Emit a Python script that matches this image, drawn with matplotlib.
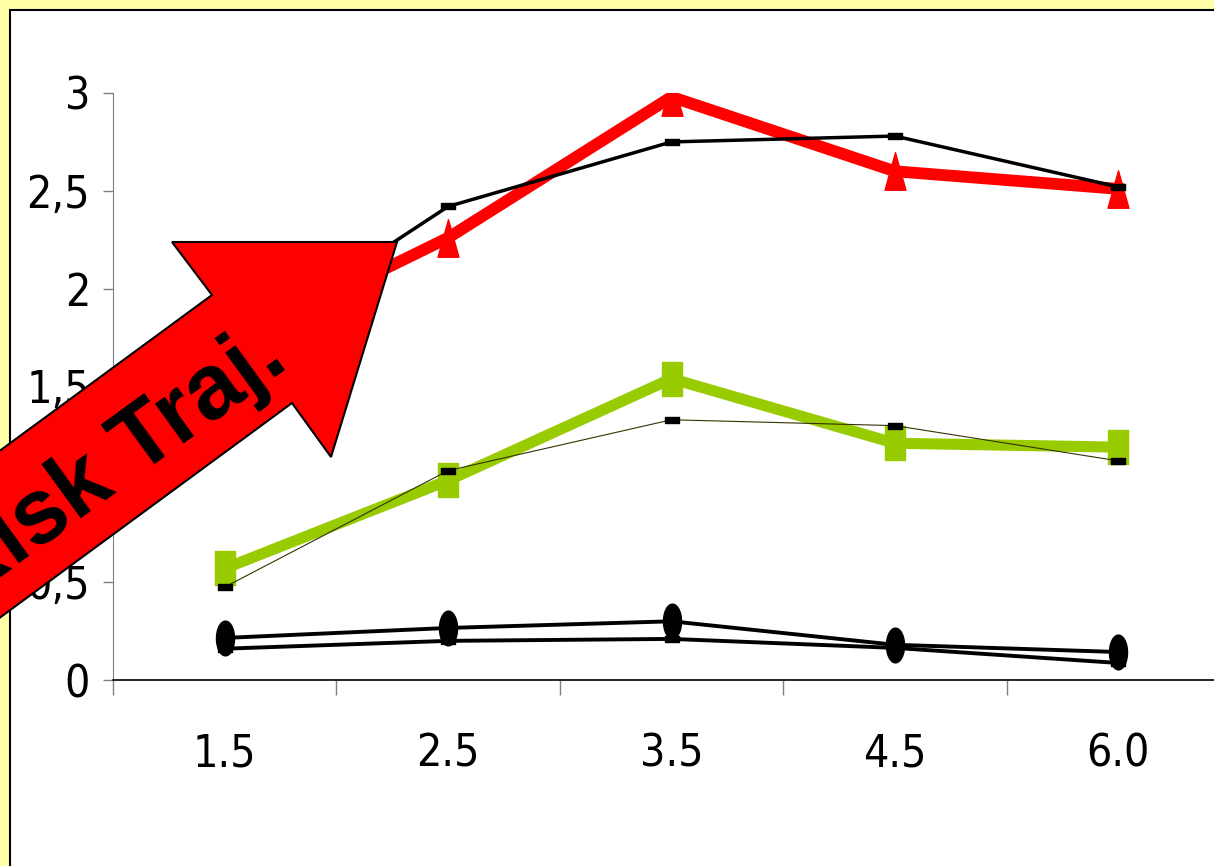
import matplotlib
matplotlib.use("Agg")
import matplotlib.pyplot as plt
import numpy as np
from matplotlib.path import Path
from matplotlib.patches import Polygon, Rectangle

W, H = 1214, 866

x_labels = ["1.5", "2.5", "3.5", "4.5", "6.0"]
red_vals = [1.70, 2.26, 2.98, 2.60, 2.51]
black_high = [1.67, 2.42, 2.75, 2.78, 2.52]
green_vals = [0.57, 1.02, 1.54, 1.21, 1.19]
black_mid = [0.475, 1.07, 1.33, 1.30, 1.12]
black_oval = [0.215, 0.266, 0.30, 0.18, 0.143]
black_low = [0.16, 0.20, 0.21, 0.164, 0.087]
y_ticks = [0, 0.5, 1, 1.5, 2, 2.5, 3]
y_labels = ["0", "0,5", "1", "1,5", "2", "2,5", "3"]


def px(x, y):
    return (x / W, 1 - y / H)


def box_marker(w, h):
    return Path([(-w, -h), (w, -h), (w, h), (-w, h), (-w, -h)],
                [Path.MOVETO, Path.LINETO, Path.LINETO, Path.LINETO, Path.CLOSEPOLY])


def oval_marker(w, h):
    t = np.linspace(0, 2 * np.pi, 60)
    return Path(np.column_stack([w * np.cos(t), h * np.sin(t)]))


tri_marker = Path([(-0.28, -0.5), (0.28, -0.5), (0, 0.5), (-0.28, -0.5)],
                  [Path.MOVETO, Path.LINETO, Path.LINETO, Path.CLOSEPOLY])

fig = plt.figure(figsize=(W / 100, H / 100), dpi=100, facecolor="#ffffa8")

# white panel with black frame
fig.add_artist(Rectangle(px(10, 900), 1.2, (900 - 10) / H, transform=fig.transFigure,
                         facecolor="white", edgecolor="black", lw=1.5, zorder=-5))

ax = fig.add_axes([113 / W, 1 - 680 / H, (1230 - 113) / W, (680 - 93) / H])
ax.set_facecolor("none")
x = np.arange(len(x_labels))

ax.plot(x, red_vals, color="#ff0000", lw=8.5, marker=tri_marker, ms=27,
        mec="#ff0000", solid_joinstyle="miter", zorder=3)
ax.plot(x, black_high, color="black", lw=2.5, marker=box_marker(1, 0.5), ms=9.5, zorder=4)
ax.plot(x, green_vals, color="#99cc00", lw=8, marker=box_marker(0.55, 1), ms=25,
        mec="#99cc00", zorder=3)
ax.plot(x, black_mid, color="#333300", lw=0.8, marker=box_marker(1, 0.5), ms=9.5,
        mfc="black", mec="black", zorder=4)
ax.plot(x, black_low, color="black", lw=2.8, marker=box_marker(1, 0.5), ms=9.5, zorder=4)
ax.plot(x, black_oval, color="black", lw=2.8, marker=oval_marker(0.52, 1), ms=25, zorder=5)

ax.set_xlim(-0.5, len(x_labels) - 0.5)
ax.set_ylim(0, 3)
ax.set_xticks(np.arange(-0.5, len(x_labels)))
ax.set_xticklabels([])
ax.set_xticks(x, minor=True)
ax.set_xticklabels(x_labels, minor=True)
ax.set_yticks(y_ticks)
ax.set_yticklabels(y_labels)

for lab in ax.get_xticklabels(minor=True) + ax.get_yticklabels():
    lab.set_family(["DejaVu Sans"])
    lab.set_stretch("condensed")
    lab.set_fontsize(32)
ax.tick_params(axis="x", which="major", direction="out", length=11, width=1, color="#808080")
ax.tick_params(axis="x", which="minor", length=0, pad=38)
ax.tick_params(axis="y", direction="out", length=7.5, width=1, color="#808080", pad=9)

for side in ["top", "right"]:
    ax.spines[side].set_visible(False)
ax.spines["left"].set_color("#808080")
ax.spines["bottom"].set_color("black")
ax.spines["bottom"].set_linewidth(1.2)

# big red arrow
arrow_pts = [px(397, 242), px(172, 242), px(212, 295), px(-100, 524),
             px(-100, 691), px(292, 403), px(331, 457)]
fig.add_artist(Polygon(arrow_pts, closed=True, transform=fig.transFigure,
                       facecolor="#ff0000", edgecolor="black", lw=1.5, zorder=10))
tx, ty = px(112, 466)
fig.text(tx, ty, "Risk Traj.", rotation=36, rotation_mode="anchor",
         ha="center", va="center", fontsize=66, fontweight="bold",
         family=["Liberation Sans", "DejaVu Sans"], color="black", zorder=11)

fig.savefig("out.png", dpi=100, facecolor=fig.get_facecolor())
